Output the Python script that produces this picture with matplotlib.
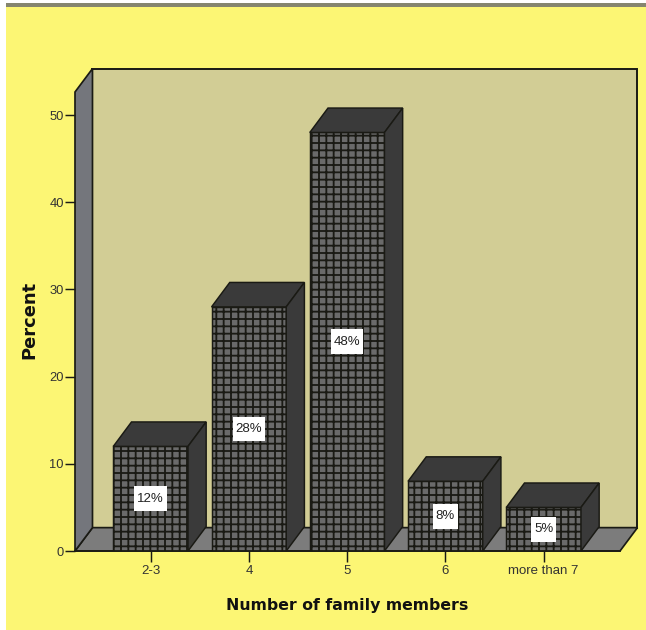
import matplotlib
matplotlib.use('Agg')
import matplotlib.pyplot as plt
from matplotlib.patches import Polygon, Rectangle

categories = ['2-3', '4', '5', '6', 'more than 7']
percents = [12, 28, 48, 8, 5]
value_labels = ['12%', '28%', '48%', '8%', '5%']
y_ticks = [0, 10, 20, 30, 40, 50]

W, H = 646, 630
DPI = 88

YELLOW = '#FCF674'
WALL = '#D2CD95'
FLOOR = '#7C7C7C'
SIDE_WALL = '#74767C'
BAR_FACE = '#6A6A6A'
BAR_DARK = '#3A3A3A'
LINE = '#1A1A14'

plt.rcParams['font.family'] = ['Liberation Sans', 'DejaVu Sans']
plt.rcParams['hatch.linewidth'] = 1.5
plt.rcParams['hatch.color'] = '#26262C'

fig = plt.figure(figsize=(W / DPI, H / DPI), dpi=DPI, facecolor='white')

# page background and the grey rule along the top
fig.add_artist(Rectangle((6 / W, 0), 1 - 6 / W, 1 - 7 / H, transform=fig.transFigure,
                         facecolor=YELLOW, edgecolor='none', zorder=-2))
fig.add_artist(Rectangle((6 / W, 1 - 7 / H), 1 - 6 / W, 4 / H, transform=fig.transFigure,
                         facecolor='#85856F', edgecolor='none', zorder=-2))

# front plane of the plot: 98.25 px per category, 8.72 px per percent
ax = fig.add_axes([75 / W, (H - 551) / H, (620 - 75) / W, (551 - 92) / H])
ax.set_xlim(-0.770, 4.777)
ax.set_ylim(0, 52.64)
ax.patch.set_visible(False)

x0, x1 = ax.get_xlim()
y1 = ax.get_ylim()[1]
dx, dy = 0.178, 2.68

# box walls
ax.add_patch(Polygon([(x0 + dx, dy), (x1 + dx, dy), (x1 + dx, y1 + dy), (x0 + dx, y1 + dy)],
                     closed=True, facecolor=WALL, edgecolor=LINE, linewidth=1.6, clip_on=False, zorder=1))
ax.add_patch(Polygon([(x0, 0), (x1, 0), (x1 + dx, dy), (x0 + dx, dy)],
                     closed=True, facecolor=FLOOR, edgecolor=LINE, linewidth=1.4, clip_on=False, zorder=1.1))
ax.add_patch(Polygon([(x0, 0), (x0 + dx, dy), (x0 + dx, y1 + dy), (x0, y1)],
                     closed=True, facecolor=SIDE_WALL, edgecolor=LINE, linewidth=1.4, clip_on=False, zorder=1.2))

# 3d bars
bar_w = 0.76
bar_dx, bar_dy = 0.185, 2.8
for i, p in enumerate(percents):
    left = i - bar_w / 2
    right = i + bar_w / 2
    ax.bar(i, p, width=bar_w, facecolor=BAR_FACE, edgecolor=LINE, hatch='++',
           linewidth=1.2, zorder=3)
    ax.add_patch(Polygon([(left, p), (right, p), (right + bar_dx, p + bar_dy), (left + bar_dx, p + bar_dy)],
                         closed=True, facecolor=BAR_DARK, edgecolor=LINE, linewidth=1.2, clip_on=False, zorder=3))
    ax.add_patch(Polygon([(right, 0), (right + bar_dx, bar_dy), (right + bar_dx, p + bar_dy), (right, p)],
                         closed=True, facecolor=BAR_DARK, edgecolor=LINE, linewidth=1.2, clip_on=False, zorder=3))
    # white label plate, wider for the two digit values
    plate_w = 0.33 if len(value_labels[i]) == 3 else 0.255
    plate_h = 2.85
    ax.add_patch(Rectangle((i - plate_w / 2, p / 2 - plate_h / 2), plate_w, plate_h,
                           facecolor='white', edgecolor='none', zorder=4.5))
    ax.text(i, p / 2, value_labels[i], ha='center', va='center', fontsize=10.8, color='#222222', zorder=5)

for side in ['top', 'right']:
    ax.spines[side].set_visible(False)
ax.spines['left'].set_visible(False)
ax.spines['bottom'].set_linewidth(1.4)
ax.spines['bottom'].set_color(LINE)
ax.spines['bottom'].set_zorder(4)

ax.set_xticks(range(len(categories)))
ax.set_xticklabels(categories)
ax.set_yticks(y_ticks)
ax.tick_params(axis='x', length=9, width=1.2, color=LINE, labelsize=10.8, labelcolor='#333333', pad=2.5)
ax.tick_params(axis='y', length=8, width=1.2, color=LINE, labelsize=10.5, labelcolor='#333333', pad=1)

ax.set_xlabel('Number of family members', fontsize=12.9, fontweight='bold', family='DejaVu Sans', color='#111111')
ax.xaxis.set_label_coords((347 - 75) / 545, -47 / 459)
ax.set_ylabel('Percent', fontsize=14.6, fontweight='bold', family='DejaVu Sans', color='#111111')
ax.yaxis.set_label_coords(-37 / 545, (551 - 320) / 459)

fig.savefig('out.png', dpi=DPI)
